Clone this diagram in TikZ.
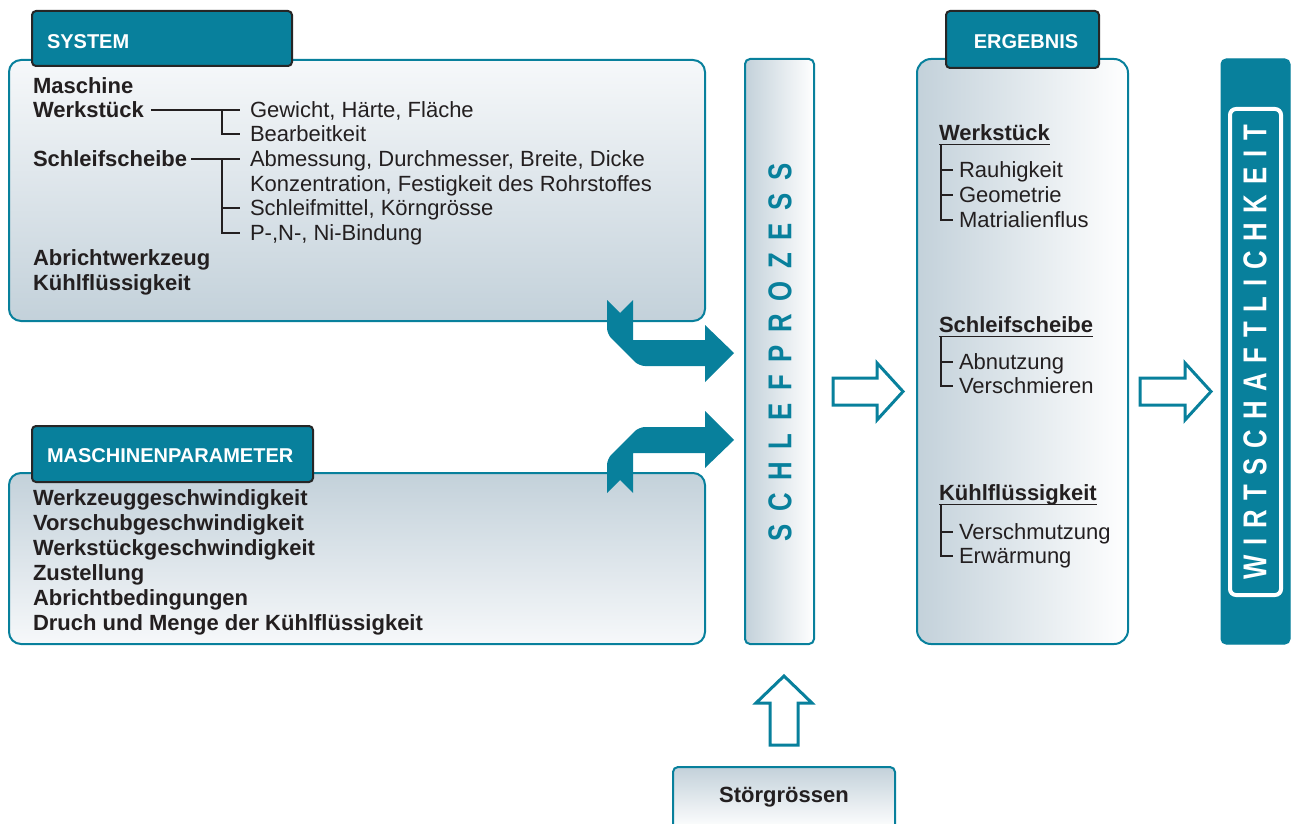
\documentclass[tikz,border=0pt]{standalone}
\usepackage{fontspec}
\setmainfont{Liberation Sans}
\usepackage{graphicx}
\definecolor{teal1}{RGB}{8,128,156}
\definecolor{greyb}{RGB}{195,209,218}
\definecolor{topw}{RGB}{246,248,250}
\definecolor{txt}{RGB}{35,31,32}
\definecolor{hdrline}{RGB}{38,38,38}
\newcommand{\gapS}{\kern16.3pt}
\newcommand{\gapW}{\kern12.5pt}
\newcommand{\spfont}{\fontsize{33}{36}\selectfont\bfseries}
\tikzset{
  every node/.style={inner sep=0pt, outer sep=0pt},
  bigbox/.style={draw=teal1, line width=2pt, rounded corners=12pt},
  hdrbox/.style={draw=hdrline, fill=teal1, line width=2pt, rounded corners=4pt},
  hdrtxt/.style={font=\fontsize{20}{24}\selectfont\bfseries, text=white, anchor=west, text height=14.3pt, text depth=0pt},
  bitem/.style={font=\fontsize{22}{24}\selectfont\bfseries, text=txt, anchor=west, text height=15.75pt, text depth=0pt},
  ritem/.style={font=\fontsize{22}{24}\selectfont, text=txt, anchor=west, text height=15.75pt, text depth=0pt},
  tree/.style={draw=txt, line width=1.2pt},
  bigarrow/.style={fill=teal1, draw=none},
  hollow/.style={draw=teal1, fill=white, line width=3pt, miter limit=10},
}
\begin{document}
\begin{tikzpicture}[x=1pt,y=-1pt]
\useasboundingbox (0,0) rectangle (1298,824);
\clip (0,0) rectangle (1298,824);

% ---------- SYSTEM ----------
\node[bigbox, top color=topw, bottom color=greyb, minimum width=696pt, minimum height=261pt, anchor=north west] (sys) at (9,60) {};
\node[hdrbox, minimum width=260pt, minimum height=55pt, anchor=north west] (sysh) at (32,11) {};
\node[hdrtxt] (syst) at (47,41) {SYSTEM};

\node[bitem] (m1) at (33,86) {Maschine};
\node[bitem] (m2) at (33,110) {Werkstück};
\node[bitem] (m3) at (33,159) {Schleifscheibe};
\node[bitem] (m4) at (33,258) {Abrichtwerkzeug};
\node[bitem] (m5) at (33,283) {Kühlflüssigkeit};
\node[ritem] (r1) at (250,110) {Gewicht, Härte, Fläche};
\node[ritem] (r2) at (250,134) {Bearbeitkeit};
\node[ritem] (r3) at (250,159) {Abmessung, Durchmesser, Breite, Dicke};
\node[ritem] (r4) at (250,184) {Konzentration, Festigkeit des Rohrstoffes};
\node[ritem] (r5) at (250,208) {Schleifmittel, Körngrösse};
\node[ritem] (r6) at (250,233) {P-,N-, Ni-Bindung};

\draw[tree] ([xshift=7pt]m2.east) -- ([xshift=-10pt]r1.west);
\draw[tree] ([xshift=-28pt]r1.west) |- ([xshift=-10pt]r2.west);
\draw[tree] ([xshift=4pt]m3.east) -- ([xshift=-10pt]r3.west);
\draw[tree] ([xshift=-28pt]r3.west) |- ([xshift=-10pt]r6.west);
\draw[tree] ([xshift=-28pt]r5.west) -- ([xshift=-10pt]r5.west);

% ---------- MASCHINENPARAMETER ----------
\node[bigbox, top color=greyb, bottom color=topw, minimum width=696pt, minimum height=171pt, anchor=north west] (mp) at (9,473) {};
\node[hdrbox, minimum width=281pt, minimum height=56pt, anchor=north west] (mph) at (32,426) {};
\node[hdrtxt] (mpt) at (47,455) {MASCHINENPARAMETER};

\node[bitem] (p1) at (33,498) {Werkzeuggeschwindigkeit};
\node[bitem] (p2) at (33,523) {Vorschubgeschwindigkeit};
\node[bitem] (p3) at (33,548) {Werkstückgeschwindigkeit};
\node[bitem] (p4) at (33,573) {Zustellung};
\node[bitem] (p5) at (33,598) {Abrichtbedingungen};
\node[bitem] (p6) at (33,623) {Druch und Menge der Kühlflüssigkeit};

% ---------- big teal arrows ----------
\fill[bigarrow] (607,300) -- (620,313) -- (633,300) -- (633,340) -- (705,340) -- (705,325)
  -- (734,353) -- (705,382) -- (705,366) [rounded corners=6pt] -- (639,366) -- (607,334) -- (607,318) [sharp corners] -- (607,300) -- cycle;
\fill[bigarrow] (607,493) -- (620,480) -- (633,493) -- (633,453) -- (705,453) -- (705,468)
  -- (734,440) -- (705,411) -- (705,427) [rounded corners=6pt] -- (639,427) -- (607,459) -- (607,475) [sharp corners] -- (607,493) -- cycle;

% ---------- SCHLEFPROZESS ----------
\node[draw=teal1, line width=2pt, rounded corners=5pt, left color=greyb, right color=white, minimum width=69pt, minimum height=585pt, anchor=north west] (sp) at (745,59) {};
\node[rotate=90, text=teal1, font=\spfont] (spt) at (780,352.5)
  {\scalebox{0.78}[1]{S\gapS C\gapS H\gapS L\gapS E\gapS F\gapS P\gapS R\gapS O\gapS Z\gapS E\gapS S\gapS S}};

% ---------- hollow arrows ----------
\draw[hollow] (833,378) -- (877,378) -- (877,363) -- (903,391.5) -- (877,420) -- (877,405) -- (833,405) -- cycle;
\draw[hollow] (1140,378) -- (1185,378) -- (1185,363) -- (1211,391.5) -- (1185,420) -- (1185,405) -- (1140,405) -- cycle;
\draw[hollow] (770,745) -- (770,703) -- (756,703) -- (784,676) -- (812,703) -- (798,703) -- (798,745) -- cycle;

% ---------- ERGEBNIS ----------
\node[bigbox, rounded corners=14pt, left color=greyb, right color=white, minimum width=211pt, minimum height=585pt, anchor=north west] (erg) at (917,59) {};
\node[hdrbox, minimum width=153pt, minimum height=57pt, anchor=north west] (ergh) at (946,11) {};
\node[hdrtxt, anchor=center] (ergt) at (1026,41) {ERGEBNIS};

\node[bitem] (e1) at (939,133) {Werkstück};
\node[ritem] (a1) at (959,170) {Rauhigkeit};
\node[ritem] (a2) at (959,195) {Geometrie};
\node[ritem] (a3) at (959,220) {Matrialienflus};
\coordinate (u1) at ([yshift=-4pt]e1.south west);
\coordinate (v1) at ([xshift=-18pt]a1.west);
\draw[tree] (u1) -- ([yshift=-4pt]e1.south east);
\draw[tree] (u1 -| v1) |- ([xshift=-6pt]a3.west);
\draw[tree] (v1) -- ([xshift=-6pt]a1.west);
\draw[tree] ([xshift=-18pt]a2.west) -- ([xshift=-6pt]a2.west);

\node[bitem] (e2) at (939,325) {Schleifscheibe};
\node[ritem] (b1) at (959,362) {Abnutzung};
\node[ritem] (b2) at (959,386) {Verschmieren};
\coordinate (u2) at ([yshift=-4pt]e2.south west);
\coordinate (v2) at ([xshift=-18pt]b1.west);
\draw[tree] (u2) -- ([yshift=-4pt]e2.south east);
\draw[tree] (u2 -| v2) |- ([xshift=-6pt]b2.west);
\draw[tree] (v2) -- ([xshift=-6pt]b1.west);

\node[bitem] (e3) at (939,493) {Kühlflüssigkeit};
\node[ritem] (c1) at (959,532) {Verschmutzung};
\node[ritem] (c2) at (959,556) {Erwärmung};
\coordinate (u3) at ([yshift=-4pt]e3.south west);
\coordinate (v3) at ([xshift=-18pt]c1.west);
\draw[tree] (u3) -- ([yshift=-4pt]e3.south east);
\draw[tree] (u3 -| v3) |- ([xshift=-6pt]c2.west);
\draw[tree] (v3) -- ([xshift=-6pt]c1.west);

% ---------- WIRTSCHAFTLICHKEIT ----------
\node[fill=teal1, draw=teal1, line width=1pt, rounded corners=5pt, minimum width=69pt, minimum height=585pt, anchor=north west] (wi) at (1221,59) {};
\node[draw=white, line width=4pt, rounded corners=6pt, minimum width=51pt, minimum height=486pt, anchor=north west] (wiin) at (1230,109) {};
\node[rotate=90, text=white, font=\spfont] (wit) at (1255,352.5)
  {\scalebox{0.78}[1]{W\gapW I\gapW R\gapW T\gapW S\gapW C\gapW H\gapW A\gapW F\gapW T\gapW L\gapW I\gapW C\gapW H\gapW K\gapW E\gapW I\gapW T}};

% ---------- STOERGROESSEN ----------
\node[draw=teal1, line width=2pt, rounded corners=5pt, top color=greyb, bottom color=white, minimum width=222pt, minimum height=62pt, anchor=north west] (st) at (673,767) {};
\node[bitem, anchor=center] (stt) at (784,795) {Störgrössen};
\end{tikzpicture}
\end{document}
